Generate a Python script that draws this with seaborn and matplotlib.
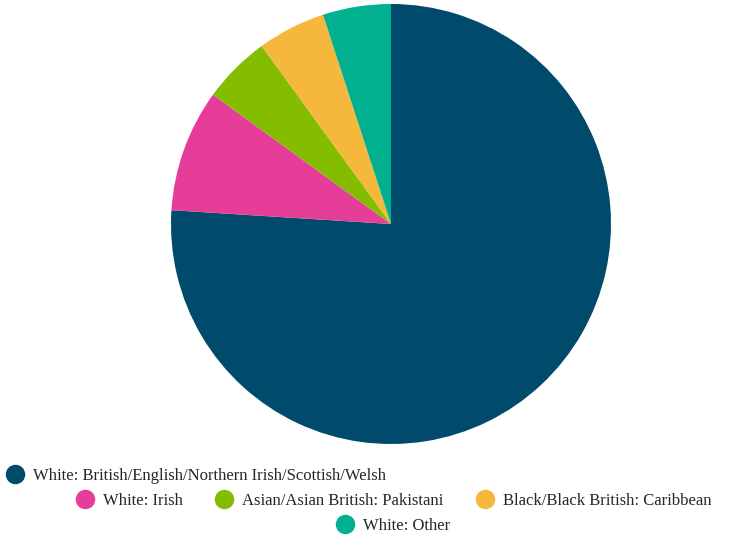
import matplotlib
matplotlib.use("Agg")
import matplotlib.pyplot as plt
from matplotlib.lines import Line2D
import seaborn as sns

# Ethnic group shares (%)
groups = [
    "White: British/English/Northern Irish/Scottish/Welsh",
    "White: Irish",
    "Asian/Asian British: Pakistani",
    "Black/Black British: Caribbean",
    "White: Other",
]
shares = [76, 9, 5, 5, 5]
colors = ["#004B6B", "#E63E98", "#84BC00", "#F5B83D", "#00B08F"]

sns.set_theme(style="white")
plt.rcParams["font.family"] = ["Liberation Serif", "DejaVu Serif"]

W, H = 734, 547
fig = plt.figure(figsize=(W / 100, H / 100), dpi=100)
cx, cy, r = 391, 224, 220
ax = fig.add_axes([(cx - r) / W, (H - cy - r) / H, 2 * r / W, 2 * r / H])
ax.pie(shares, colors=colors, startangle=90, counterclock=False, radius=1,
       wedgeprops=dict(linewidth=0))
ax.set_xlim(-1, 1)
ax.set_ylim(-1, 1)
ax.set_aspect("equal")
ax.axis("off")

handles = [Line2D([], [], marker="o", linestyle="none", markersize=13,
                  markerfacecolor=c, markeredgecolor=c) for c in colors]

common = dict(frameon=False, fontsize=12, borderpad=0, borderaxespad=0,
              handletextpad=0.58, columnspacing=2.0, handlelength=1.0)

# row 1, left aligned
fig.legend(handles[:1], groups[:1], loc="center left",
           bbox_to_anchor=(7 / W, 1 - 476 / H), ncol=1, **common)
# row 2, centered
fig.legend(handles[1:4], groups[1:4], loc="center",
           bbox_to_anchor=(394 / W, 1 - 501 / H), ncol=3, **common)
# row 3, centered
fig.legend(handles[4:], groups[4:], loc="center",
           bbox_to_anchor=(393 / W, 1 - 526 / H), ncol=1, **common)

fig.savefig("out.png", dpi=100, facecolor="white")
